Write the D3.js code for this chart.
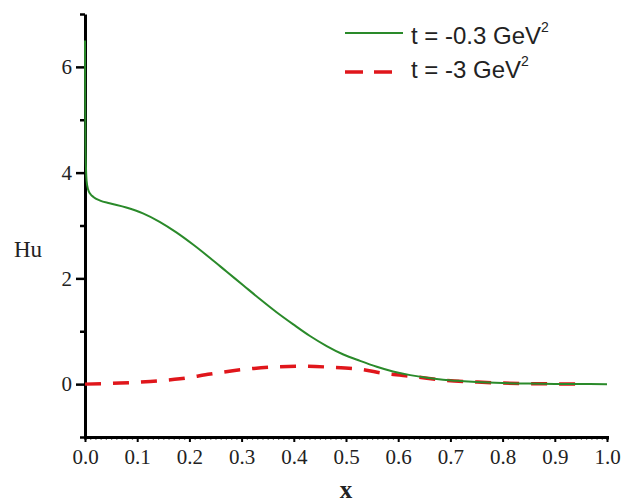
<!DOCTYPE html>
<html><head><meta charset="utf-8">
<script src="https://cdn.jsdelivr.net/npm/d3@7"></script>
<style>body{margin:0;background:#fff}svg{display:block}</style>
</head><body>
<svg id="c" width="622" height="502"></svg>
<script>
const xTicks = [0.0,0.1,0.2,0.3,0.4,0.5,0.6,0.7,0.8,0.9,1.0];
const yTicks = [0,2,4,6];
const yMinorTicks = [-1,1,3,5,7];
const seriesNames = ["t = -0.3 GeV", "t = -3 GeV"];
const greenX = [0,0.0005,0.001,0.002,0.003,0.006,0.01,0.016,0.029,0.047,0.079,0.111,0.143,0.175,0.207,0.239,0.271,0.303,0.335,0.367,0.399,0.431,0.463,0.495,0.527,0.559,0.59,0.623,0.655,0.686,0.718,0.75,0.8,0.85,0.9,0.95,1.0];
const greenY = [6.5,5.2,4.5,4.05,3.85,3.68,3.6,3.54,3.47,3.42,3.34,3.23,3.07,2.87,2.64,2.39,2.13,1.87,1.61,1.36,1.13,0.91,0.72,0.56,0.44,0.33,0.24,0.17,0.12,0.085,0.06,0.04,0.02,0.01,0.004,0.001,0];
const redX = [0,0.067,0.125,0.182,0.24,0.297,0.354,0.412,0.47,0.527,0.575,0.632,0.69,0.75,0.8,0.85,0.9,0.95];
const redY = [0,0.02,0.05,0.1,0.19,0.27,0.32,0.34,0.32,0.28,0.2,0.14,0.07,0.04,0.02,0.01,0.004,0.001];

const svg = d3.select("#c");
const x = d3.scaleLinear().domain([0,1]).range([85,607]);
const y = d3.scaleLinear().domain([-1,7]).range([437,14]);
const serif = "'Liberation Serif','Times New Roman',serif";
const sans = "'Liberation Sans',Arial,sans-serif";

// x axis
const xa = svg.append("g").attr("transform",`translate(0,${y(-1)})`)
  .call(d3.axisBottom(x).tickValues(d3.range(0,101).map(d=>d/100)).tickSize(2.5).tickFormat(""));
xa.select(".domain").attr("stroke","#000").attr("stroke-width",3);
xa.selectAll(".tick line").attr("stroke","#000").attr("stroke-width",1.2);
const xb = svg.append("g").attr("transform",`translate(0,${y(-1)})`)
  .call(d3.axisBottom(x).tickValues(xTicks).tickSize(5).tickSizeOuter(0).tickFormat(d3.format(".1f")));
xb.select(".domain").remove();
xb.selectAll(".tick line").attr("stroke","#000").attr("stroke-width",2);
xb.selectAll(".tick text").attr("font-family",serif).attr("font-size",21).attr("fill","#222").attr("y",12).attr("dy","0.71em");

// y axis
const ya = svg.append("g").attr("transform",`translate(${x(0)},0)`)
  .call(d3.axisLeft(y).tickValues(yMinorTicks).tickSize(5).tickSizeOuter(0).tickFormat(""));
ya.select(".domain").attr("stroke","#000").attr("stroke-width",3);
ya.selectAll(".tick line").attr("stroke","#000").attr("stroke-width",2.5);
const yb = svg.append("g").attr("transform",`translate(${x(0)},0)`)
  .call(d3.axisLeft(y).tickValues(yTicks).tickSize(9).tickFormat(d3.format("d")));
yb.select(".domain").remove();
yb.selectAll(".tick line").attr("stroke","#000").attr("stroke-width",2.5);
yb.selectAll(".tick text").attr("font-family",serif).attr("font-size",21).attr("fill","#222").attr("x",-13);

// axis titles
svg.append("text").attr("x",28).attr("y",257).attr("text-anchor","middle")
  .attr("font-family",serif).attr("font-size",23).attr("fill","#222").text("Hu");
svg.append("text").attr("x",x(0.5)).attr("y",498).attr("text-anchor","middle")
  .attr("font-family",serif).attr("font-weight","bold").attr("font-size",25).attr("fill","#222").text("x");

// lines
const line = d3.line().x(d=>x(d[0])).y(d=>y(d[1])).curve(d3.curveMonotoneX);
const gData = greenX.map((v,i)=>[v,greenY[i]]);
const rData = redX.map((v,i)=>[v,redY[i]]);
svg.append("path").datum(rData).attr("d",line).attr("fill","none")
  .attr("stroke","#e0161b").attr("stroke-width",3.5).attr("stroke-dasharray","16,12");
svg.append("path").datum(gData).attr("d",line).attr("fill","none")
  .attr("stroke","#2a8a2a").attr("stroke-width",2);

// legend
const colors = ["#2a8a2a","#e0161b"];
const lg = svg.append("g");
seriesNames.forEach((name,i)=>{
  const ly = [33,72][i];
  lg.append("line").attr("x1",345).attr("x2",403).attr("y1",ly).attr("y2",ly)
    .attr("stroke",colors[i]).attr("stroke-width",i?3.5:2.2)
    .attr("stroke-dasharray",i?"18,11":null);
  const t = lg.append("text").attr("x",411).attr("y",[44,78][i])
    .attr("font-family",sans).attr("font-size",24).attr("fill","#222");
  t.append("tspan").text(name);
  t.append("tspan").attr("dy",-12).attr("font-size",14).text("2");
});
</script>
</body></html>
